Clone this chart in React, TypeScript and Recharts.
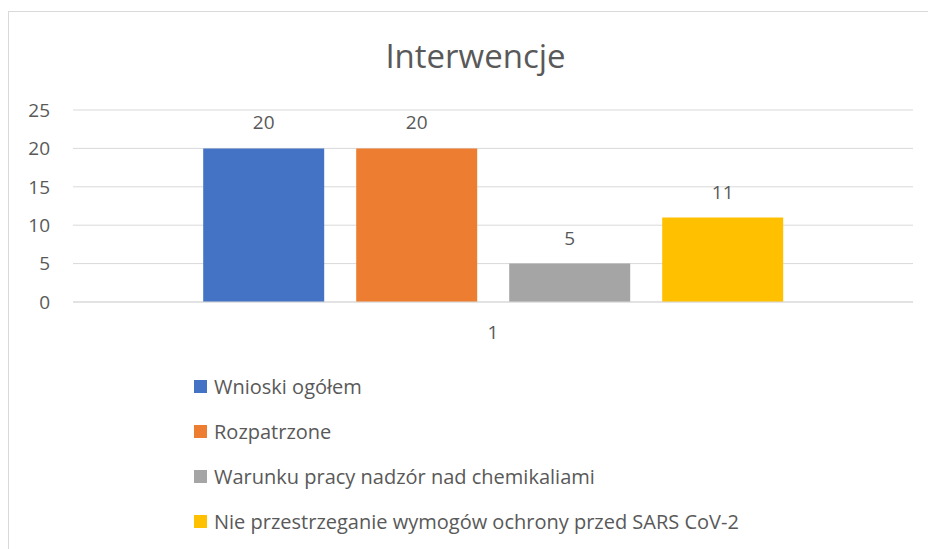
import React from 'react';
import { BarChart, Bar, XAxis, YAxis, CartesianGrid, LabelList } from 'recharts';

const categories = ['1'];
const seriesNames = [
  'Wnioski ogółem',
  'Rozpatrzone',
  'Warunku pracy nadzór nad chemikaliami',
  'Nie przestrzeganie wymogów ochrony przed SARS CoV-2',
];
const seriesValues = [20, 20, 5, 11];
const seriesColors = ['#4472C4', '#ED7D31', '#A5A5A5', '#FFC000'];
const yTicks = [0, 5, 10, 15, 20, 25];

const FONT = '"Open Sans", "Liberation Sans", sans-serif';
const TEXT = '#595959';

// one row per category, one key per series
const data = categories.map(cat => {
  const row: Record<string, string | number> = { cat };
  seriesNames.forEach((name, i) => {
    row[`s${i}`] = seriesValues[i];
  });
  return row;
});

const App: React.FC = () => {
  return (
    <>
      {/* keep the page from growing scrollbars */}
      <style>{'html,body{margin:0;overflow:hidden}'}</style>
      <div
        style={{
          position: 'absolute',
          left: 8,
          top: 11,
          width: 925,
          height: 540,
          borderTop: '1px solid #D9D9D9',
          borderLeft: '1px solid #D9D9D9',
          boxSizing: 'border-box',
          fontFamily: FONT,
          background: '#fff',
        }}
      >
        {/* Title */}
        <div
          style={{
            position: 'absolute',
            left: 0,
            top: 21,
            width: 933,
            textAlign: 'center',
            fontSize: 33,
            color: TEXT,
          }}
        >
          Interwencje
        </div>

        <BarChart
          width={919}
          height={529}
          data={data}
          margin={{ top: 98, right: 15, left: 0, bottom: 209 }}
          barCategoryGap="15.5%"
          barGap={32}
        >
          <CartesianGrid vertical={false} stroke="#D9D9D9" />
          <XAxis
            dataKey="cat"
            height={30}
            tickLine={false}
            axisLine={{ stroke: '#D9D9D9' }}
            tick={{ fill: TEXT, fontSize: 19, fontFamily: FONT }}
            tickMargin={18}
          />
          <YAxis
            width={64}
            domain={[0, 25]}
            ticks={yTicks}
            axisLine={false}
            tickLine={false}
            tickSize={0}
            tickMargin={23}
            tick={{ fill: TEXT, fontSize: 19, fontFamily: FONT }}
          />
          {seriesNames.map((name, i) => (
            <Bar key={name} dataKey={`s${i}`} name={name} fill={seriesColors[i]} isAnimationActive={false}>
              <LabelList
                dataKey={`s${i}`}
                position="top"
                offset={19}
                fill={TEXT}
                fontSize={19}
                fontFamily={FONT}
              />
            </Bar>
          ))}
        </BarChart>

        {/* Legend */}
        <div style={{ position: 'absolute', left: 185, top: 352 }}>
          {seriesNames.map((name, i) => (
            <div
              key={name}
              style={{ display: 'flex', alignItems: 'center', height: 45, fontSize: 20, color: TEXT }}
            >
              <span
                style={{
                  display: 'inline-block',
                  width: 13,
                  height: 13,
                  background: seriesColors[i],
                  marginRight: 7,
                }}
              />
              {name}
            </div>
          ))}
        </div>
      </div>
    </>
  );
};

export default App;
